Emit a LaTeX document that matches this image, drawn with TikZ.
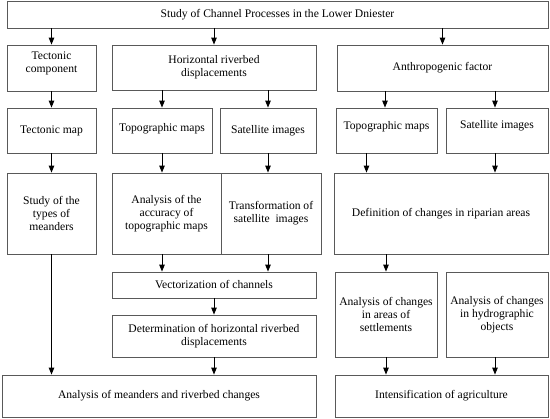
\documentclass[tikz,border=0pt]{standalone}
\usepackage{fontspec}
\setmainfont{Liberation Serif}
\usetikzlibrary{arrows.meta}
\newcommand{\upbox}[2]{\raisebox{#1}[\height][\depth]{\begin{tabular}{@{}c@{}}#2\end{tabular}}}
\begin{document}
\begin{tikzpicture}[x=1pt,y=-1pt,
  box/.style={draw=black!65,line width=0.8pt,rectangle,inner sep=0pt,align=center,font=\fontsize{11.6}{12.7}\selectfont},
  arr/.style={-{Triangle[length=7pt,width=5.5pt]},line width=1pt,black}]
\useasboundingbox (0,0) rectangle (550,419);
\node[box,minimum width=541,minimum height=27] (top) at (277.5,14.5) {Study of Channel Processes in the Lower Dniester};
\node[box,minimum width=89,minimum height=46] (tc) at (51.5,68) {\upbox{4.5pt}{Tectonic\\component}};
\node[box,minimum width=204,minimum height=45] (hrd) at (214,67.5) {Horizontal riverbed\\displacements};
\node[box,minimum width=211,minimum height=46] (anf) at (442.5,68) {Anthropogenic factor};
\node[box,minimum width=89,minimum height=45] (tmap) at (51.5,130.5) {Tectonic map};
\node[box,minimum width=100,minimum height=45] (topoL) at (162,130.5) {\upbox{1.5pt}{Topographic maps}};
\node[box,minimum width=96,minimum height=45] (satL) at (268,130.5) {Satellite images};
\node[box,minimum width=101,minimum height=45] (topoR) at (386.5,130.5) {\upbox{4pt}{Topographic maps}};
\node[box,minimum width=102,minimum height=45] (satR) at (497,130.5) {\upbox{5pt}{Satellite images}};
\node[box,minimum width=89,minimum height=81] (study) at (51.5,213.5) {Study of the\\types of\\meanders};
\node[box,minimum width=109,minimum height=81] (acc) at (166.5,213.5) {Analysis of the\\accuracy of\\topographic maps};
\node[box,minimum width=100,minimum height=81] (trans) at (271,213.5) {Transformation of\\satellite\ \ images};
\node[box,minimum width=214,minimum height=81] (defn) at (441,213.5) {Definition of changes in riparian areas};
\node[box,minimum width=204,minimum height=26] (vec) at (214,285) {Vectorization of channels};
\node[box,minimum width=204,minimum height=42] (det) at (214,336) {Determination of horizontal riverbed\\displacements};
\node[box,minimum width=314,minimum height=42] (anaM) at (159,396) {Analysis of meanders and riverbed changes};
\node[box,minimum width=102,minimum height=85] (sett) at (386,314.5) {Analysis of changes\\in areas of\\settlements};
\node[box,minimum width=102,minimum height=85] (hydro) at (497,314.5) {Analysis of changes\\in hydrographic\\objects};
\node[box,minimum width=213,minimum height=42] (intens) at (441.5,396) {Intensification of agriculture};
% arrows
\draw[arr] (top.south -| tc) -- (tc.north);
\draw[arr] (top.south -| hrd) -- (hrd.north);
\draw[arr] (top.south -| anf) -- (anf.north);
\draw[arr] (tc) -- (tmap);
\draw[arr] (tmap) -- (study);
\draw[arr] (study.south) -- (study.south |- anaM.north);
\draw[arr] (hrd.south -| topoL) -- (topoL.north);
\draw[arr] (hrd.south -| satL) -- (satL.north);
\draw[arr] ([xshift=-1.5pt]anf.south -| topoR) -- ([xshift=-1.5pt]topoR.north);
\draw[arr] ([xshift=-2pt]anf.south -| satR) -- ([xshift=-2pt]satR.north);
\draw[arr] (topoL.south) -- (topoL.south |- acc.north);
\draw[arr] (satL.south) -- (satL.south |- trans.north);
\draw[arr] ([xshift=-20pt]topoR.south) -- ([xshift=-20pt]topoR.south |- defn.north);
\draw[arr] ([xshift=-2pt]satR.south) -- ([xshift=-2pt]satR.south |- defn.north);
\draw[arr] (acc.south -| topoL) -- (vec.north -| topoL);
\draw[arr] (trans.south -| satL) -- (vec.north -| satL);
\draw[arr] (vec) -- (det);
\draw[arr] (det.south) -- (det.south |- anaM.north);
\draw[arr] (defn.south -| sett) -- (sett.north);
\draw[arr] (sett.south) -- (sett.south |- intens.north);
\draw[arr] ([xshift=-2pt]hydro.south) -- ([xshift=-2pt]hydro.south |- intens.north);
\end{tikzpicture}
\end{document}
